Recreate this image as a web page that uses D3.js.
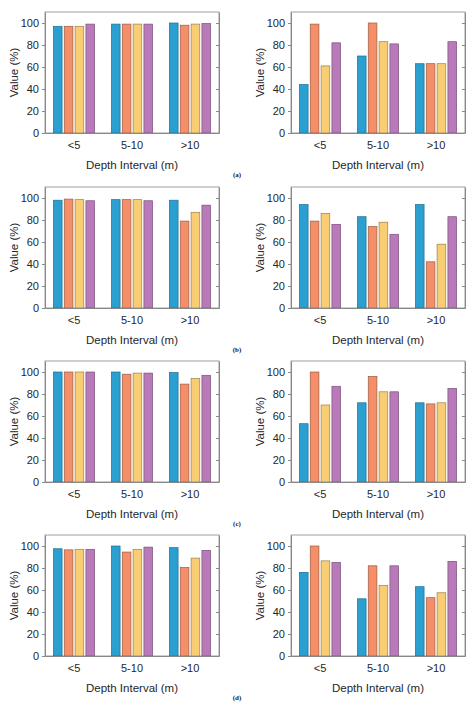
<!DOCTYPE html>
<html><head><meta charset="utf-8">
<script src="https://cdn.jsdelivr.net/npm/d3@7"></script>
<style>body{margin:0;background:#fff}</style>
</head><body>
<svg width="474" height="710"></svg>
<script>
var categories = ["<5", "5-10", ">10"];
var series = ["s1", "s2", "s3", "s4"];
var colors = ["#2b9fd0", "#f48f6a", "#f8cd74", "#b87ab8"];
var edges = ["#1d6f92", "#9c5a42", "#9c8148", "#7a4f7a"];
var yTicks = [0, 20, 40, 60, 80, 100];
var captions = ["(a)", "(b)", "(c)", "(d)"];

// values per panel: [category][series]
var aLeft  = [[97,97,97,99],[99,99,99,99],[100,98,99,99.5]];
var aRight = [[44,99,61,82],[70,100,83,81],[63,63,63,83]];
var bLeft  = [[98,99,98.5,97.5],[98.5,98.5,98.5,97.5],[98,79,87,93.5]];
var bRight = [[94,79,86,76],[83,74,78,67],[94,42,58,83]];
var cLeft  = [[100,100,100,100],[100,98,99,99],[99.5,89,94,97]];
var cRight = [[53,100,70,87],[72,96,82,82],[72,71,72,85]];
var dLeft  = [[97.5,96.5,97,97],[100,94.5,97,99],[98.5,80.5,89,96]];
var dRight = [[76,100,86.5,85],[52,82,64,82],[63,53,57.5,86]];

var panels = [[aLeft, aRight], [bLeft, bRight], [cLeft, cRight], [dLeft, dRight]];
var rowTops = [12, 187, 361, 535];
var colLefts = [45, 291];
var w = 174, h = 121;

var svg = d3.select("svg");

var x0 = d3.scaleBand().domain(categories).range([0, w]).paddingInner(0.29).paddingOuter(0.145);
var x1 = d3.scaleBand().domain(series).range([0, x0.bandwidth()]).paddingInner(0.2);
var y = d3.scaleLinear().domain([0, 110]).range([h, 0]);

panels.forEach(function(row, r) {
	row.forEach(function(data, c) {
		var g = svg.append("g").attr("transform", "translate(" + colLefts[c] + "," + rowTops[r] + ")");

		g.append("rect").attr("width", w).attr("height", h)
			.attr("fill", "none").attr("stroke", "#888").attr("stroke-width", 0.8);

		var grp = g.selectAll(".grp").data(data).enter().append("g")
			.attr("transform", function(d, i) { return "translate(" + x0(categories[i]) + ",0)"; });
		grp.selectAll("rect").data(function(d) { return d; }).enter().append("rect")
			.attr("x", function(d, i) { return x1(series[i]); })
			.attr("y", function(d) { return y(d); })
			.attr("width", x1.bandwidth())
			.attr("height", function(d) { return h - y(d); })
			.attr("fill", function(d, i) { return colors[i]; })
			.attr("stroke", function(d, i) { return edges[i]; })
			.attr("stroke-width", 0.7);

		var ya = g.append("g").call(d3.axisLeft(y).tickValues(yTicks).tickSize(3).tickSizeOuter(0));
		var yr = g.append("g").attr("transform", "translate(" + w + ",0)")
			.call(d3.axisLeft(y).tickValues(yTicks).tickSize(3).tickSizeOuter(0).tickFormat(""));
		var xa = g.append("g").attr("transform", "translate(0," + h + ")")
			.call(d3.axisBottom(x0).tickSize(0).tickPadding(8));
		[ya, yr, xa].forEach(function(a) {
			a.select(".domain").attr("stroke", "#888");
			a.selectAll("line").attr("stroke", "#888");
			a.selectAll("text").attr("fill", "#262626").style("font-family", "Liberation Sans, Arial, sans-serif").style("font-size", "11px");
		});

		g.append("text").attr("x", w / 2).attr("y", h + 36).attr("text-anchor", "middle")
			.style("font-family", "Liberation Sans, Arial, sans-serif").style("font-size", "11.5px")
			.attr("fill", "#262626").text("Depth Interval (m)");
		g.append("text").attr("transform", "translate(-27," + (h / 2) + ") rotate(-90)")
			.attr("text-anchor", "middle")
			.style("font-family", "Liberation Sans, Arial, sans-serif").style("font-size", "11.5px")
			.attr("fill", "#262626").text("Value (%)");
	});
	svg.append("text").attr("x", 237).attr("y", rowTops[r] + 165).attr("text-anchor", "middle")
		.style("font-family", "Liberation Serif, Times New Roman, serif").style("font-size", "7px")
		.style("font-weight", "bold").attr("fill", "#222").text(captions[r]);
});
</script>
</body></html>
